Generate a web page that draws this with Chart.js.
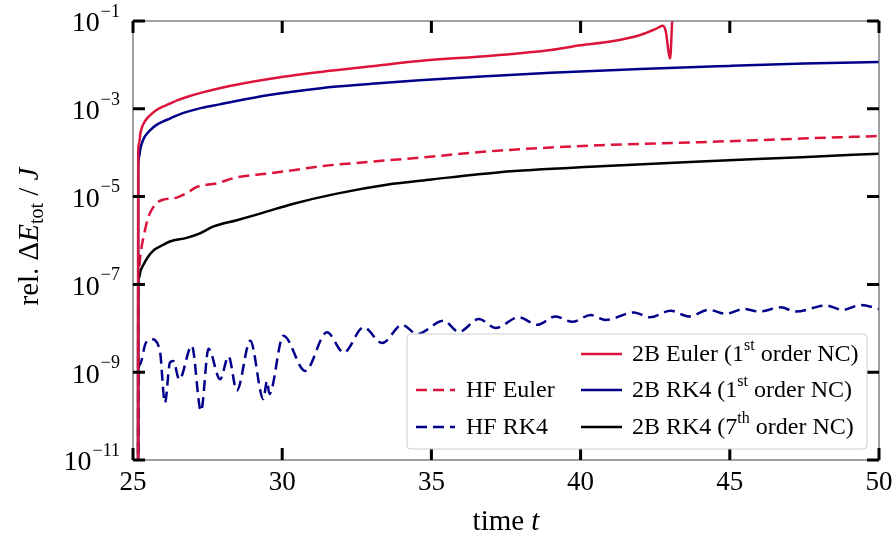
<!DOCTYPE html>
<html>
<head>
<meta charset="utf-8">
<script src="https://cdn.jsdelivr.net/npm/chart.js@4"></script>
<style>
  html, body { margin: 0; padding: 0; background: #fff; }
  #wrap { width: 894px; height: 535px; position: relative; }
</style>
</head>
<body>
<div id="wrap"><canvas id="energyChart"></canvas></div>
<script>
// tick positions
const xTicks = [25, 30, 35, 40, 45, 50];
const yExponents = [-1, -3, -5, -7, -9, -11];

// 2B Euler (1st order NC)
const tEuler2B = [25.17, 25.175, 25.2, 25.25, 25.3, 25.4, 25.57, 25.8, 26.0, 26.24, 26.5, 26.8, 27.3, 27.9, 29.5, 31.3, 33, 34.6, 37, 39, 40, 41, 42, 42.5, 42.75, 42.85, 43.0, 43.07, 43.2];
const eEuler2B = [1e-12, 1.0e-4, 1.6e-4, 2.8e-4, 3.8e-4, 5.2e-4, 7.1e-4, 9.5e-4, 1.12e-3, 1.32e-3, 1.58e-3, 1.86e-3, 2.34e-3, 2.95e-3, 4.7e-3, 6.9e-3, 9.3e-3, 1.23e-2, 1.62e-2, 2.19e-2, 2.8e-2, 3.4e-2, 4.8e-2, 6.5e-2, 7.8e-2, 6.0e-2, 1.41e-2, 1.0e-1, 1.0];

// 2B RK4 (1st order NC)
const tRk4First = [25.17, 25.175, 25.2, 25.25, 25.3, 25.4, 25.57, 25.8, 26.0, 26.24, 26.5, 26.8, 27.3, 27.9, 29.5, 31.3, 33, 34.6, 37, 39, 42, 45, 47.5, 50];
const eRk4First = [1e-12, 4.0e-5, 7.9e-5, 1.26e-4, 1.66e-4, 2.34e-4, 3.24e-4, 4.37e-4, 5.1e-4, 6.0e-4, 7.2e-4, 8.5e-4, 1.05e-3, 1.26e-3, 2.04e-3, 2.95e-3, 3.7e-3, 4.47e-3, 5.6e-3, 6.6e-3, 8.1e-3, 9.5e-3, 1.07e-2, 1.17e-2];

// 2B RK4 (7th order NC)
const tRk4Seventh = [25.17, 25.175, 25.2, 25.25, 25.35, 25.5, 25.68, 26.0, 26.24, 26.8, 27.2, 27.7, 28.48, 29.26, 30.38, 31.83, 33.5, 35.0, 37.3, 40.67, 44.03, 47.4, 50];
const eRk4Seventh = [1e-12, 1.0e-7, 1.41e-7, 2.0e-7, 2.8e-7, 4.2e-7, 5.9e-7, 7.9e-7, 9.5e-7, 1.15e-6, 1.41e-6, 2.1e-6, 2.9e-6, 4.1e-6, 6.9e-6, 1.17e-5, 1.86e-5, 2.45e-5, 3.6e-5, 4.9e-5, 6.3e-5, 7.9e-5, 9.5e-5];

// HF Euler
const tHfEuler = [25.17, 25.175, 25.2, 25.23, 25.3, 25.4, 25.5, 25.68, 25.85, 26.0, 26.47, 26.8, 27.14, 27.8, 28.48, 29.6, 30.37, 31.27, 32.95, 34.3, 37.3, 40.67, 44.03, 47.4, 50];
const eHfEuler = [1e-12, 1.0e-7, 2.0e-7, 3.5e-7, 7.9e-7, 1.7e-6, 3.2e-6, 5.75e-6, 7.6e-6, 8.5e-6, 9.5e-6, 1.2e-5, 1.66e-5, 2.0e-5, 2.75e-5, 3.4e-5, 4.0e-5, 4.9e-5, 6.2e-5, 7.4e-5, 1.12e-4, 1.48e-4, 1.74e-4, 2.1e-4, 2.4e-4];

// HF RK4
const tHfRk4 = [25.17, 25.18, 25.23, 25.42, 25.63, 25.9, 26.07, 26.24, 26.35, 26.55, 26.97, 27.28, 27.53, 27.92, 28.2, 28.48, 28.93, 29.37, 29.49, 29.57, 30.04, 30.77, 31.5, 32.06, 32.73, 33.35, 34.02, 34.52, 35.41, 35.92, 36.59, 37.15, 37.93, 38.55, 39.16, 39.72, 40.34, 40.84, 41.79, 42.32, 43.02, 43.63, 44.3, 44.86, 45.48, 45.98, 46.71, 47.21, 48.22, 48.78, 49.4, 50];
const eHfRk4 = [1e-12, 1.0e-9, 1.5e-9, 4.5e-9, 5.6e-9, 3.1e-9, 2.0e-10, 1.66e-9, 1.8e-9, 6.8e-10, 4.0e-9, 1.3e-10, 3.4e-9, 6.9e-10, 2.3e-9, 3.8e-10, 5.2e-9, 2.45e-10, 6.3e-10, 3.2e-10, 6.8e-9, 1.07e-9, 8.1e-9, 2.8e-9, 1.05e-8, 4.6e-9, 1.2e-8, 7.4e-9, 1.48e-8, 8.3e-9, 1.62e-8, 1.02e-8, 1.78e-8, 1.2e-8, 1.86e-8, 1.41e-8, 2.0e-8, 1.55e-8, 2.3e-8, 1.78e-8, 2.5e-8, 1.86e-8, 2.63e-8, 2.14e-8, 2.75e-8, 2.4e-8, 3.0e-8, 2.4e-8, 3.3e-8, 2.63e-8, 3.4e-8, 2.75e-8];

const RED = '#dc143c';
const BLUE = '#00008b';
const BLACK = '#000000';
const SERIF = '"Liberation Serif", "DejaVu Serif", serif';

function pts(ts, vs) {
    return ts.map((t, i) => ({ x: t, y: vs[i] }));
}

// legend layout: column, row and label pieces (second value = superscript)
const legendItems = [
    { ds: 3, col: 0, row: 1, parts: [['HF Euler', 0]] },
    { ds: 4, col: 0, row: 2, parts: [['HF RK4', 0]] },
    { ds: 0, col: 1, row: 0, parts: [['2B Euler (1', 0], ['st', 1], [' order NC)', 0]] },
    { ds: 1, col: 1, row: 1, parts: [['2B RK4 (1', 0], ['st', 1], [' order NC)', 0]] },
    { ds: 2, col: 1, row: 2, parts: [['2B RK4 (7', 0], ['th', 1], [' order NC)', 0]] }
];

const framePlugin = {
    id: 'frame',
    afterDatasetsDraw(chart) {
        const ctx = chart.ctx;
        const a = chart.chartArea;
        const xs = chart.scales.x;
        const ys = chart.scales.y;
        ctx.save();

        // spines
        ctx.strokeStyle = '#6e6e6e';
        ctx.lineWidth = 1.3;
        ctx.strokeRect(a.left, a.top, a.right - a.left, a.bottom - a.top);

        // inward ticks
        ctx.strokeStyle = '#000';
        ctx.lineWidth = 3;
        ctx.lineCap = 'butt';
        xTicks.forEach(v => {
            const px = xs.getPixelForValue(v);
            ctx.beginPath();
            ctx.moveTo(px, a.bottom); ctx.lineTo(px, a.bottom - 12);
            ctx.moveTo(px, a.top); ctx.lineTo(px, a.top + 12);
            ctx.stroke();
        });
        yExponents.forEach(e => {
            const py = ys.getPixelForValue(Math.pow(10, e));
            ctx.beginPath();
            ctx.moveTo(a.left, py); ctx.lineTo(a.left + 12, py);
            ctx.moveTo(a.right, py); ctx.lineTo(a.right - 12, py);
            ctx.stroke();
        });

        // tick labels
        ctx.fillStyle = '#000';
        ctx.font = '27px ' + SERIF;
        ctx.textAlign = 'center';
        ctx.textBaseline = 'middle';
        xTicks.forEach(v => {
            ctx.fillText(String(v), xs.getPixelForValue(v), a.bottom + 23);
        });
        yExponents.forEach(e => {
            const py = ys.getPixelForValue(Math.pow(10, e));
            const exp = '\u2212' + String(-e);
            ctx.font = '18px ' + SERIF;
            const we = ctx.measureText(exp).width;
            ctx.textAlign = 'right';
            ctx.fillText(exp, a.left - 13, py - 9);
            ctx.font = '28px ' + SERIF;
            ctx.fillText('10', a.left - 13 - we - 1, py + 3);
        });

        // x title
        ctx.font = '29px ' + SERIF;
        ctx.textAlign = 'left';
        const w1 = ctx.measureText('time ').width;
        ctx.font = 'italic 29px ' + SERIF;
        const w2 = ctx.measureText('t').width;
        const x0 = (a.left + a.right) / 2 - (w1 + w2) / 2;
        const ty = a.bottom + 62;
        ctx.font = '29px ' + SERIF;
        ctx.fillText('time ', x0, ty);
        ctx.font = 'italic 29px ' + SERIF;
        ctx.fillText('t', x0 + w1, ty);

        // y title
        const yParts = [
            ['rel. \u0394', '29px', 0],
            ['E', 'italic 29px', 0],
            ['tot', '20px', 8],
            [' / ', '29px', 0],
            ['J', 'italic 29px', 0]
        ];
        let total = 0;
        yParts.forEach(p => { ctx.font = p[1] + ' ' + SERIF; total += ctx.measureText(p[0]).width; });
        ctx.translate(30, (a.top + a.bottom) / 2 - 4);
        ctx.rotate(-Math.PI / 2);
        let cx = -total / 2;
        yParts.forEach(p => {
            ctx.font = p[1] + ' ' + SERIF;
            ctx.fillText(p[0], cx, p[2]);
            cx += ctx.measureText(p[0]).width;
        });
        ctx.restore();

        // legend
        ctx.save();
        const box = { x: 407, y: 334, w: 460, h: 115 };
        ctx.beginPath();
        ctx.roundRect(box.x, box.y, box.w, box.h, 4);
        ctx.fillStyle = 'rgba(255,255,255,0.85)';
        ctx.fill();
        ctx.strokeStyle = '#cccccc';
        ctx.lineWidth = 1;
        ctx.stroke();
        const rowsY = [354, 390, 427];
        const cols = [{ l0: 416, l1: 455, tx: 466 }, { l0: 581, l1: 622, tx: 632 }];
        legendItems.forEach(it => {
            const ds = chart.data.datasets[it.ds];
            const c = cols[it.col];
            const y = rowsY[it.row];
            ctx.strokeStyle = ds.borderColor;
            ctx.lineWidth = ds.borderWidth;
            ctx.setLineDash(ds.borderDash || []);
            ctx.beginPath();
            ctx.moveTo(c.l0, y); ctx.lineTo(c.l1, y);
            ctx.stroke();
            ctx.setLineDash([]);
            ctx.fillStyle = '#000';
            ctx.textAlign = 'left';
            ctx.textBaseline = 'middle';
            let tx = c.tx;
            it.parts.forEach(p => {
                ctx.font = (p[1] ? '16px ' : '24px ') + SERIF;
                ctx.fillText(p[0], tx, p[1] ? y - 8 : y + 1);
                tx += ctx.measureText(p[0]).width;
            });
        });
        ctx.restore();
    }
};

const ctx = document.getElementById('energyChart').getContext('2d');
new Chart(ctx, {
    type: 'line',
    data: {
        datasets: [
            { label: '2B Euler (1st order NC)', data: pts(tEuler2B, eEuler2B), borderColor: RED, borderWidth: 2.5 },
            { label: '2B RK4 (1st order NC)', data: pts(tRk4First, eRk4First), borderColor: BLUE, borderWidth: 2.5 },
            { label: '2B RK4 (7th order NC)', data: pts(tRk4Seventh, eRk4Seventh), borderColor: BLACK, borderWidth: 2.5 },
            { label: 'HF Euler', data: pts(tHfEuler, eHfEuler), borderColor: RED, borderWidth: 2.5, borderDash: [11, 6] },
            { label: 'HF RK4', data: pts(tHfRk4, eHfRk4), borderColor: BLUE, borderWidth: 2.5, borderDash: [11, 6] }
        ]
    },
    options: {
        responsive: true,
        maintainAspectRatio: false,
        animation: false,
        layout: { padding: { left: 133, top: 21, right: 15, bottom: 75 } },
        elements: {
            point: { radius: 0 },
            line: { cubicInterpolationMode: 'monotone', fill: false }
        },
        plugins: {
            legend: { display: false },
            tooltip: { enabled: false }
        },
        scales: {
            x: { type: 'linear', min: 25, max: 50, display: false },
            y: { type: 'logarithmic', min: 1e-11, max: 1e-1, display: false }
        }
    },
    plugins: [framePlugin]
});
</script>
</body>
</html>
